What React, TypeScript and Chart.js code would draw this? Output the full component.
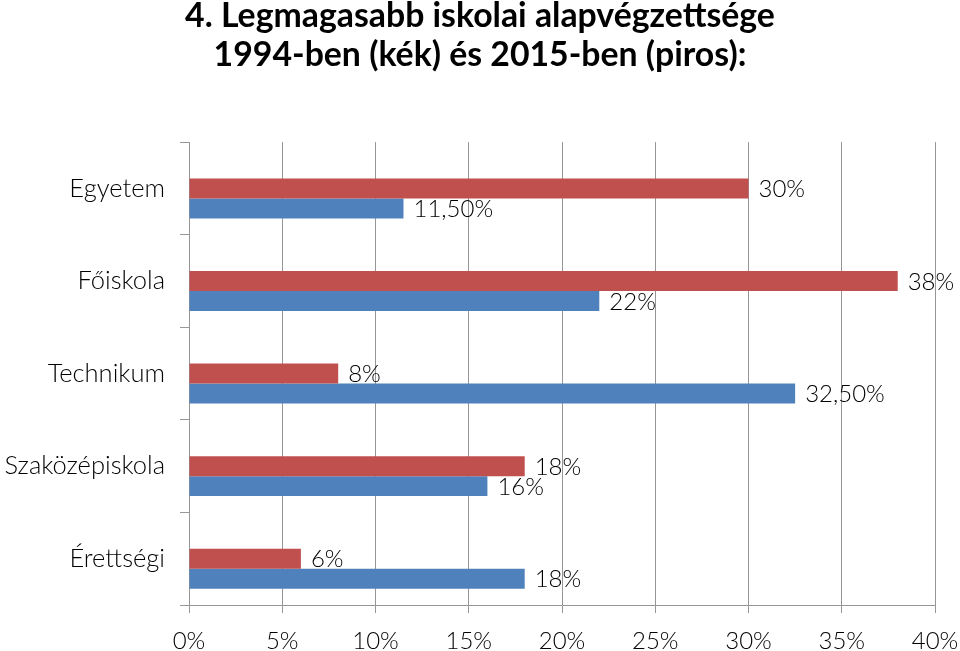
import React, { useEffect, useRef } from "react";
import { Chart, registerables } from "chart.js";

Chart.register(...registerables);

const categories = ["Egyetem", "Főiskola", "Technikum", "Szaközépiskola", "Érettségi"];
const values2015 = [30, 38, 8, 18, 6];
const values1994 = [11.5, 22, 32.5, 16, 18];
const xTicks = [0, 5, 10, 15, 20, 25, 30, 35, 40];
const titleLines = ["4. Legmagasabb iskolai alapvégzettsége", "1994-ben (kék) és 2015-ben (piros):"];

const RED = "#C0504D";
const BLUE = "#4F81BD";
const GRID = "#969696";
const FONT = "Lato";

function fmt(v: number): string {
  return Number.isInteger(v) ? `${v}%` : v.toFixed(2).replace(".", ",") + "%";
}

const valueLabels = {
  id: "valueLabels",
  afterDatasetsDraw(chart: any) {
    const ctx = chart.ctx;
    ctx.save();
    ctx.font = `300 24px ${FONT}`;
    ctx.fillStyle = "#000";
    ctx.textBaseline = "middle";
    ctx.textAlign = "left";
    chart.data.datasets.forEach((ds: any, di: number) => {
      if (!ds.showValues) return;
      const meta = chart.getDatasetMeta(di);
      meta.data.forEach((el: any, i: number) => {
        const v = ds.data[i];
        if (v == null) return;
        ctx.fillText(fmt(v), el.x + 10, el.y + 1);
      });
    });
    ctx.restore();
  },
};

export default function App() {
  const ref = useRef<HTMLCanvasElement | null>(null);

  useEffect(() => {
    if (!ref.current) return;
    const chart = new Chart(ref.current, {
      type: "bar",
      data: {
        labels: categories,
        datasets: [
          { label: "", data: categories.map(() => null), backgroundColor: "transparent" } as any,
          { label: "2015", data: values2015, backgroundColor: RED, showValues: true } as any,
          { label: "1994", data: values1994, backgroundColor: BLUE, showValues: true } as any,
        ],
      },
      options: {
        indexAxis: "y",
        animation: false,
        responsive: true,
        maintainAspectRatio: false,
        datasets: { bar: { categoryPercentage: 0.648, barPercentage: 1 } },
        layout: { padding: 0 },
        plugins: {
          legend: { display: false },
          tooltip: { enabled: false },
          title: {
            display: true,
            text: titleLines,
            color: "#000",
            font: { family: FONT, size: 33.8, weight: "bold", lineHeight: 1.17 },
            padding: { top: -4, bottom: 67 },
          },
        },
        scales: {
          x: {
            min: 0,
            max: 40,
            afterBuildTicks: (scale: any) => {
              scale.ticks = xTicks.map((v) => ({ value: v }));
            },
            afterFit: (scale: any) => {
              scale.height = 46;
              scale.paddingLeft = 0;
              scale.paddingRight = 25;
            },
            ticks: {
              color: "#000",
              font: { family: FONT, size: 24, weight: "300" },
              padding: 14,
              callback: (v: any) => `${v}%`,
            },
            grid: { color: GRID, tickLength: 8, lineWidth: 1 },
            border: { color: GRID },
          },
          y: {
            afterFit: (scale: any) => {
              scale.width = 189;
            },
            ticks: {
              color: "#000",
              font: { family: FONT, size: 25.5, weight: "300" },
              padding: 15,
            },
            grid: { offset: true, drawOnChartArea: false, color: GRID, tickLength: 9 },
            border: { color: GRID },
          },
        },
      },
      plugins: [valueLabels],
    });
    return () => chart.destroy();
  }, []);

  return (
    <div style={{ position: "fixed", left: 0, top: 0, width: 960, height: 651, background: "#fff" }}>
      <canvas ref={ref} />
    </div>
  );
}
